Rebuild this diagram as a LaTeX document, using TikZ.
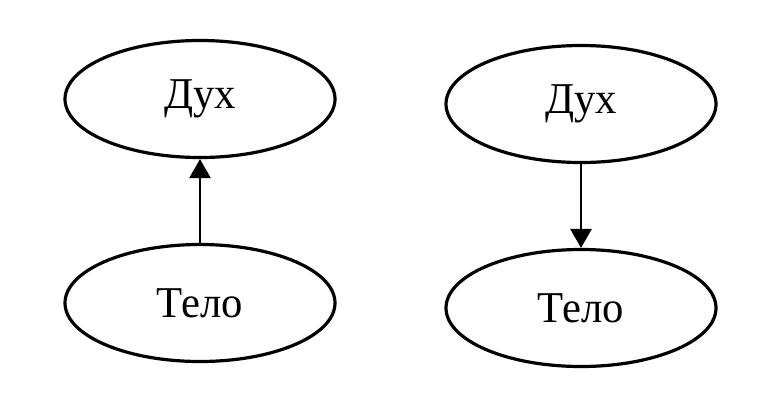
\documentclass[tikz,border=0pt]{standalone}
\usepackage{fontspec}
\setmainfont{Liberation Serif}
\usetikzlibrary{shapes.geometric,arrows.meta}
\begin{document}
\begin{tikzpicture}[x=1pt,y=-1pt,
  oval/.style={draw,line width=3.2pt,ellipse,minimum width=270pt,minimum height=117pt,inner sep=0pt,
    font=\fontsize{44}{44}\selectfont},
  arr/.style={line width=2.8pt,-{Triangle[length=19pt,width=21pt]}}]
\useasboundingbox (0,0) rectangle (780,408);
\node[oval] (d1) at (200,99) {\scalebox{0.97}[1]{Дух}};
\node[oval] (t1) at (200,303) {\scalebox{0.97}[1]{Тело}};
\node[oval] (d2) at (581,104) {\scalebox{0.97}[1]{Дух}};
\node[oval] (t2) at (581,308) {\scalebox{0.97}[1]{Тело}};
\draw[arr] (t1) -- (d1);
\draw[arr] (d2) -- (t2);
\end{tikzpicture}
\end{document}
